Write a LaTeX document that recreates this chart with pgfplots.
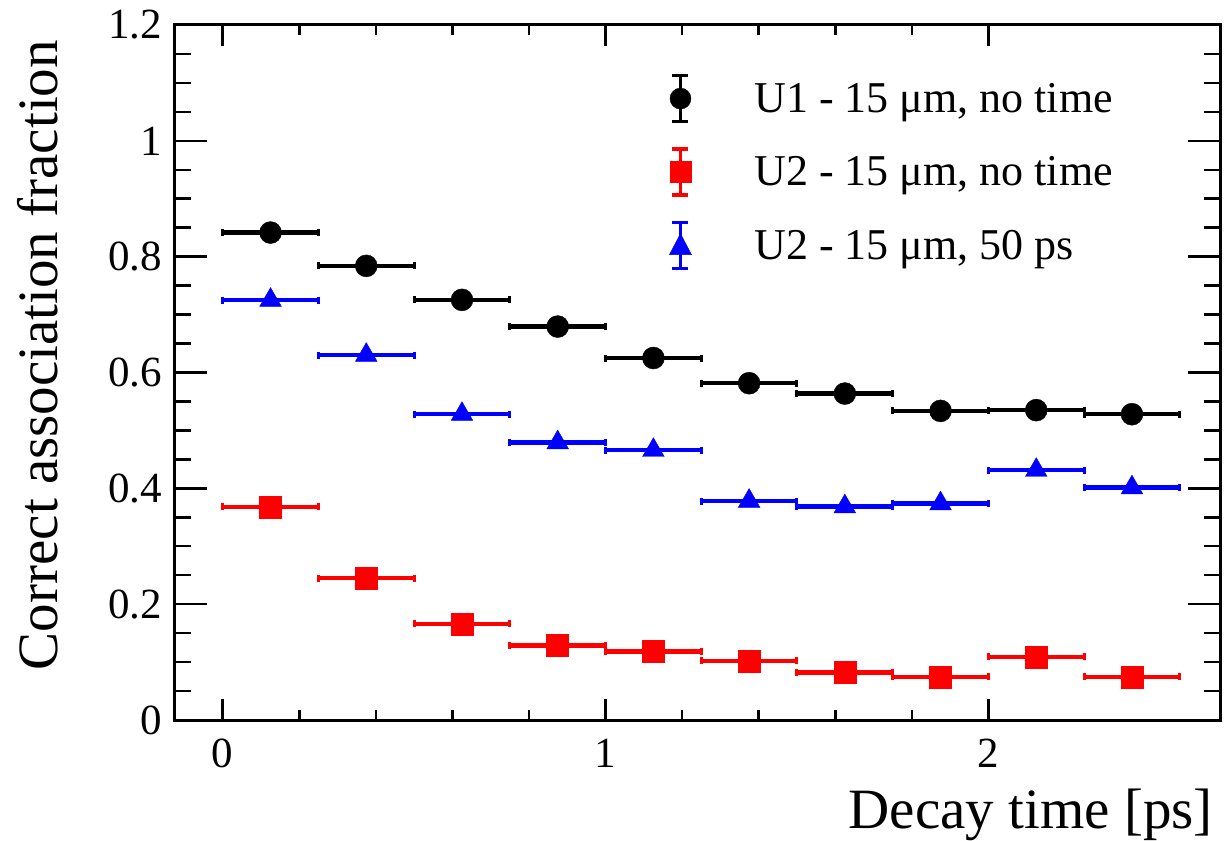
\documentclass[border=0pt]{standalone}
\usepackage{pgfplots}
\pgfplotsset{compat=1.18}
\usepackage{fontspec}
\setmainfont{Liberation Serif}
\definecolor{rblue}{RGB}{0,0,255}
\definecolor{rred}{RGB}{255,0,0}
\begin{document}
\begin{tikzpicture}
\begin{axis}[
  scale only axis,
  width=1045pt, height=695pt,
  xmin=-0.1246, xmax=2.605,
  ymin=0, ymax=1.2,
  xtick={0,1,2}, ytick={0,0.2,0.4,0.6,0.8,1,1.2},
  minor x tick num=4, minor y tick num=3,
  tick align=inside,
  xtick pos=both, ytick pos=both,
  xticklabel pos=lower, yticklabel pos=left,
  axis line style={line width=3pt},
  every tick/.style={black, line width=2.5pt},
  major tick length=32pt, minor tick length=16pt,
  xtick style={/pgfplots/major tick length=21pt, /pgfplots/minor tick length=10pt},
  /pgf/number format/assume math mode=true,
  tick label style={font=\fontsize{43}{50}\selectfont},
  xticklabel style={inner sep=0pt, anchor=north, yshift=-19pt},
  yticklabel style={inner sep=0pt, anchor=east, xshift=-13pt},
  xlabel={Decay time [ps]},
  ylabel={Correct association fraction},
  every axis x label/.style={at={(axis description cs:0.9933,-0.1554)}, anchor=base east, inner sep=0pt, font=\fontsize{57}{66}\selectfont},
  every axis y label/.style={at={(axis description cs:-0.1129,0.525)}, rotate=90, anchor=base, inner sep=0pt, font=\fontsize{57}{66}\selectfont},
  legend style={at={(axis description cs:0.4728,0.93)}, anchor=north west, draw=none, fill=none, inner sep=0pt,
    font=\fontsize{44}{50}\selectfont, row sep=24pt, column sep=0pt,
    nodes={inner sep=0pt}},
  legend cell align=left,
  error bars/x dir=both, error bars/x explicit,
  error bars/error mark=|,
  error bars/error bar style={line width=4.5pt},
  error bars/error mark options={line width=3pt, mark size=3.5pt},
]
\addplot+[only marks, black, mark=*, mark size=11pt, mark options={fill=black, draw=black},
  legend image code/.code={
    \draw[black, line width=3.5pt] (0pt,-23pt)--(0pt,23pt) (-8pt,-23pt)--(8pt,-23pt) (-8pt,23pt)--(8pt,23pt);
    \fill[black] (0pt,0pt) circle (10.5pt);
    \path[draw=none, fill=none] (-11pt,0pt) -- (74pt,0pt);
  }]
  coordinates {
  (0.125,0.8416) +- (0.125,0)
  (0.375,0.7841) +- (0.125,0)
  (0.625,0.7254) +- (0.125,0)
  (0.875,0.6793) +- (0.125,0)
  (1.125,0.6250) +- (0.125,0)
  (1.375,0.5815) +- (0.125,0)
  (1.625,0.5636) +- (0.125,0)
  (1.875,0.5337) +- (0.125,0)
  (2.125,0.5350) +- (0.125,0)
  (2.375,0.5280) +- (0.125,0)
  };
\addlegendentry{U1 - 15 μm, no time}
\addplot+[only marks, rred, mark=square*, mark size=11pt, mark options={fill=rred, draw=rred},
  legend image code/.code={
    \draw[rred, line width=3.5pt] (0pt,-23pt)--(0pt,23pt) (-8pt,-23pt)--(8pt,-23pt) (-8pt,23pt)--(8pt,23pt);
    \fill[rred] (-10.5pt,-10.5pt) rectangle (10.5pt,10.5pt);
    \path[draw=none, fill=none] (-11pt,0pt) -- (74pt,0pt);
  }]
  coordinates {
  (0.125,0.3679) +- (0.125,0)
  (0.375,0.2450) +- (0.125,0)
  (0.625,0.1660) +- (0.125,0)
  (0.875,0.1290) +- (0.125,0)
  (1.125,0.1180) +- (0.125,0)
  (1.375,0.1019) +- (0.125,0)
  (1.625,0.0817) +- (0.125,0)
  (1.875,0.0743) +- (0.125,0)
  (2.125,0.1088) +- (0.125,0)
  (2.375,0.0743) +- (0.125,0)
  };
\addlegendentry{U2 - 15 μm, no time}
\addplot+[only marks, rblue, mark=triangle*, mark size=12.5pt, mark options={fill=rblue, draw=rblue},
  legend image code/.code={
    \draw[rblue, line width=3.5pt] (0pt,-23pt)--(0pt,23pt) (-8pt,-23pt)--(8pt,-23pt) (-8pt,23pt)--(8pt,23pt);
    \fill[rblue] (-11pt,-9pt) -- (11pt,-9pt) -- (0pt,12pt) -- cycle;
    \path[draw=none, fill=none] (-11pt,0pt) -- (74pt,0pt);
  }]
  coordinates {
  (0.125,0.7250) +- (0.125,0)
  (0.375,0.6300) +- (0.125,0)
  (0.625,0.5280) +- (0.125,0)
  (0.875,0.4790) +- (0.125,0)
  (1.125,0.4658) +- (0.125,0)
  (1.375,0.3780) +- (0.125,0)
  (1.625,0.3685) +- (0.125,0)
  (1.875,0.3736) +- (0.125,0)
  (2.125,0.4313) +- (0.125,0)
  (2.375,0.4012) +- (0.125,0)
  };
\addlegendentry{U2 - 15 μm, 50 ps}
\end{axis}
\pgfresetboundingbox
\path[use as bounding box] (-175pt,-120pt) rectangle (1055pt,720pt);
\end{tikzpicture}
\end{document}
